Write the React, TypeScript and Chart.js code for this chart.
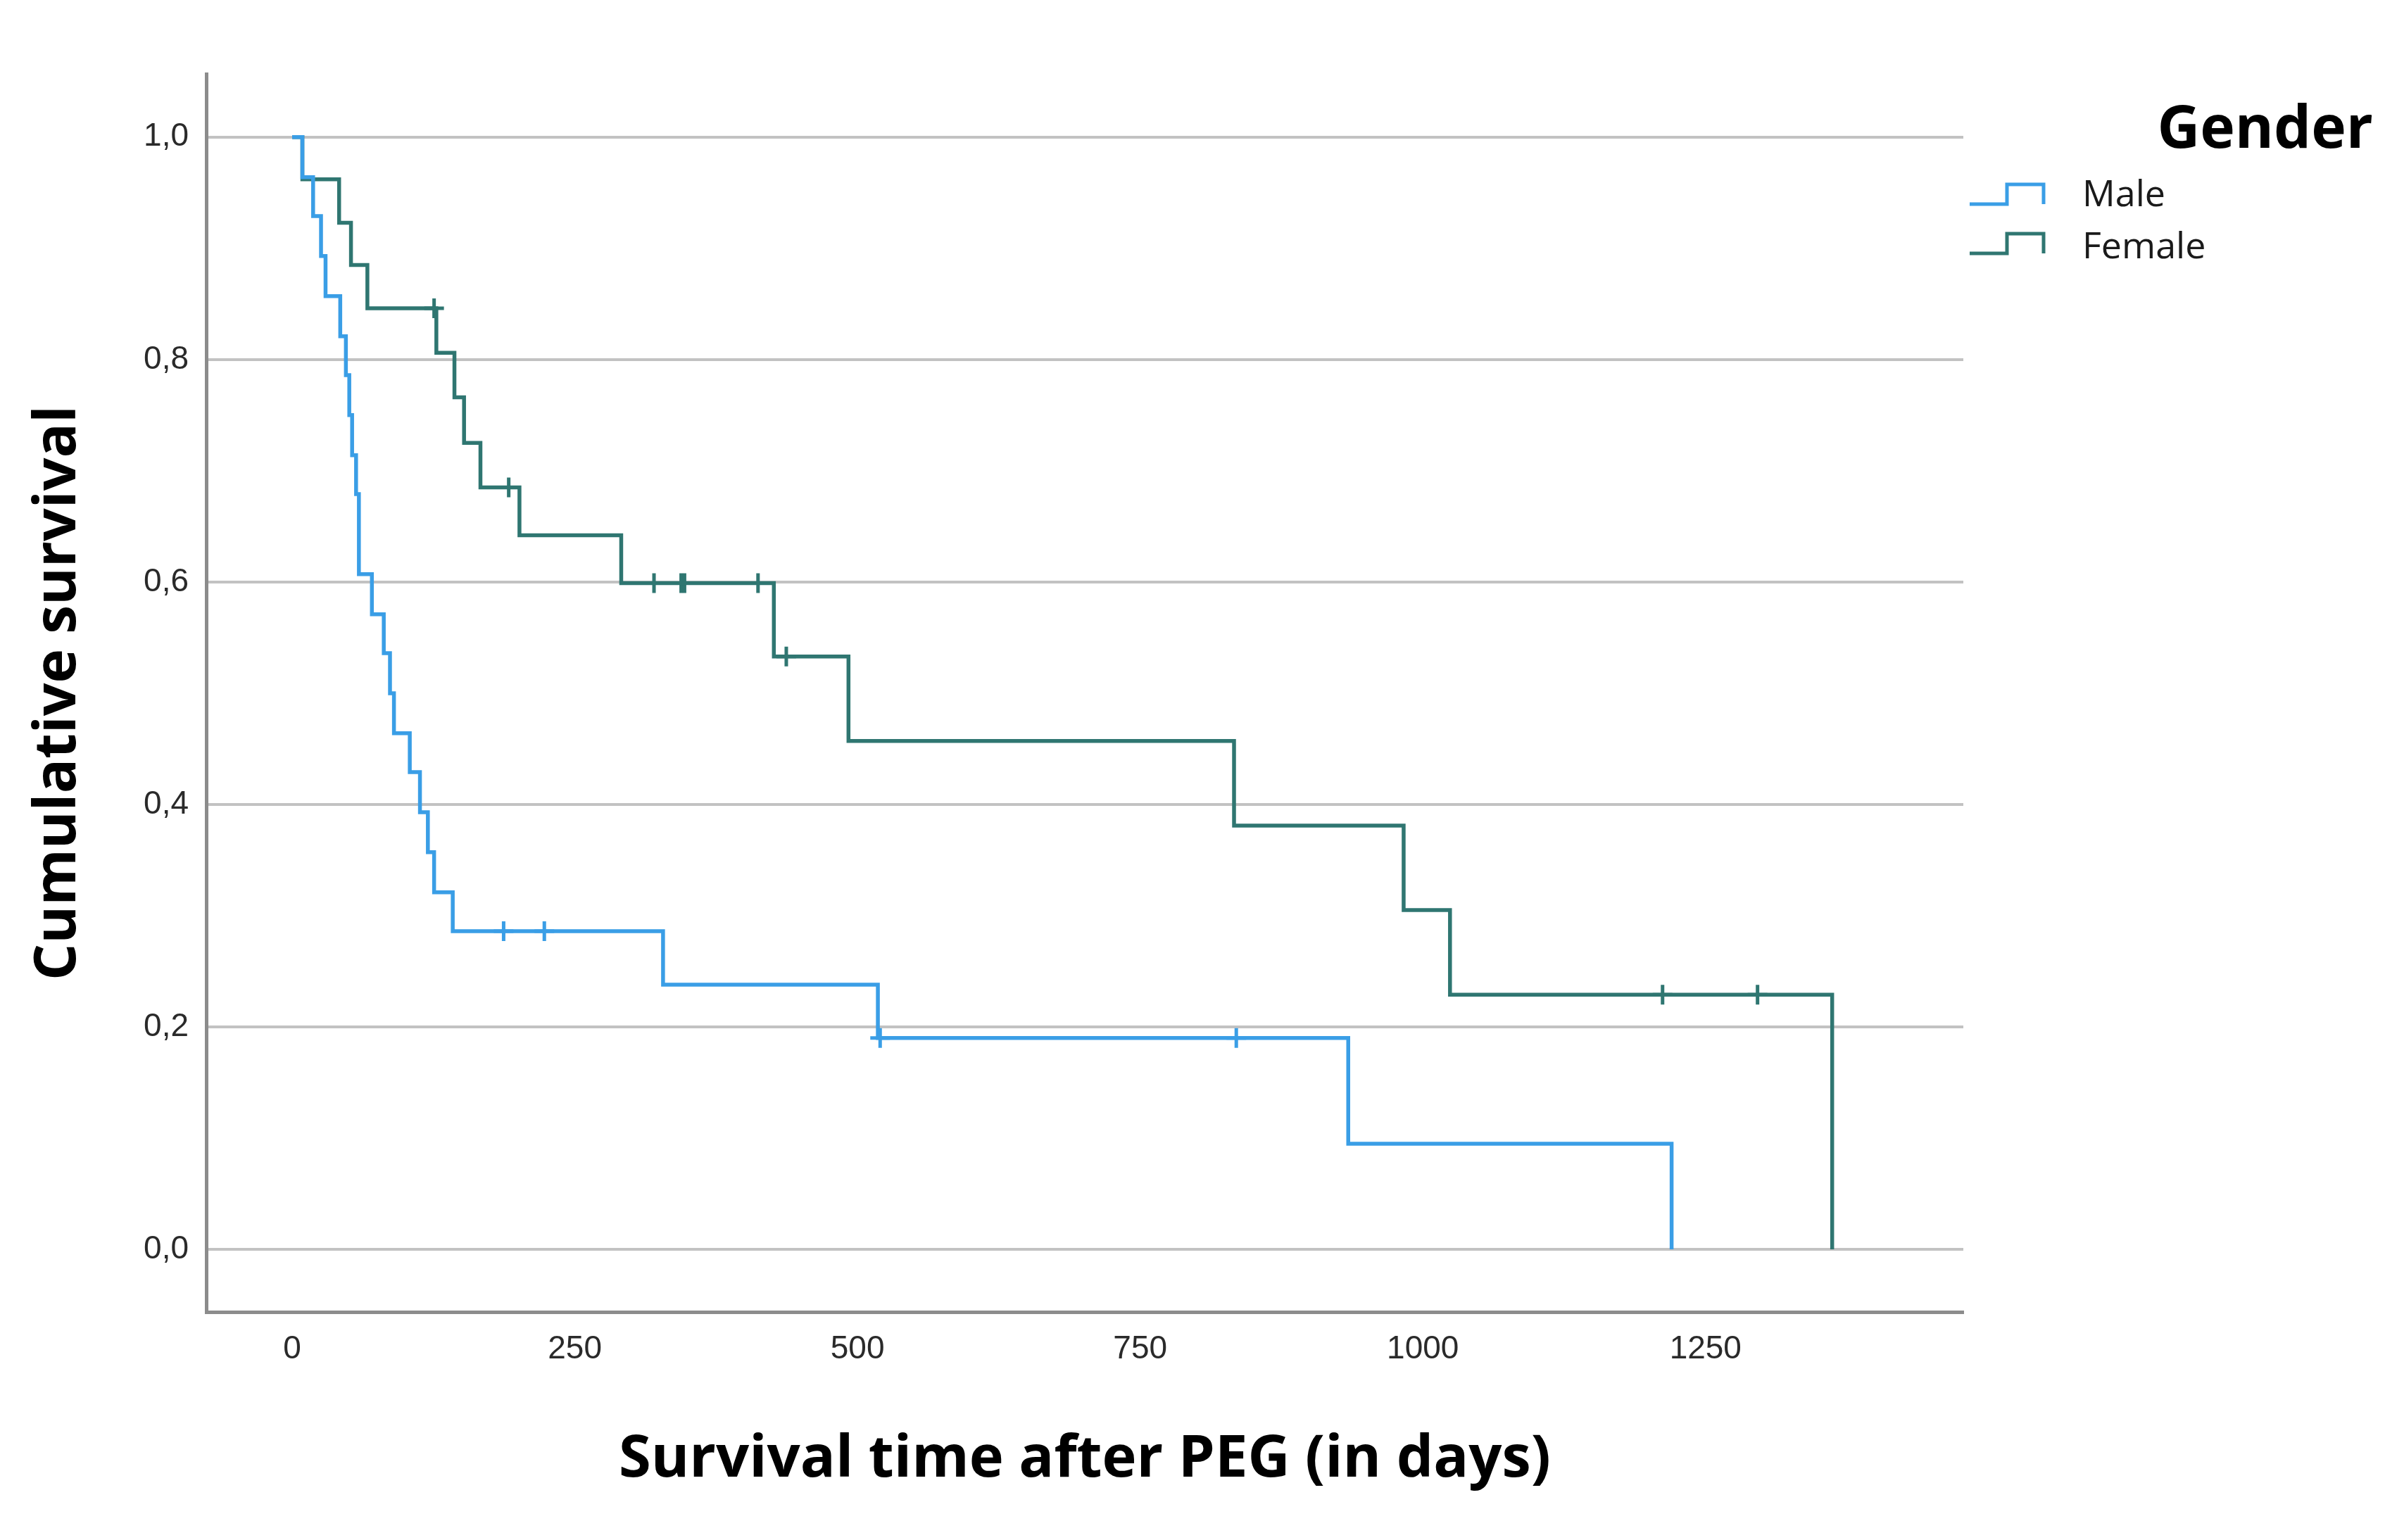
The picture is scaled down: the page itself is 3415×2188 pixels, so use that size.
import { useEffect, useRef } from "react"
import { Chart, registerables } from "chart.js"

Chart.register(...registerables)

// Kaplan-Meier steps (days, cumulative survival)
const maleTimes = [0, 9, 18.5, 25.5, 29.5, 42.5, 47.5, 50.5, 53, 56.5, 59, 70.5, 81, 86.5, 90, 104, 113, 120, 125.5, 142, 328, 518, 934, 1220]
const maleSurvival = [1, 0.964, 0.929, 0.893, 0.857, 0.821, 0.786, 0.75, 0.714, 0.679, 0.607, 0.571, 0.536, 0.5, 0.464, 0.429, 0.393, 0.357, 0.321, 0.286, 0.238, 0.19, 0.095, 0]
const maleCensorTimes = [187, 223, 520, 835]
const maleCensorSurvival = [0.286, 0.286, 0.19, 0.19]

const femaleTimes = [0, 9, 41.5, 52, 66.5, 127.5, 143.5, 152, 166.5, 201, 291, 426, 492, 833, 983, 1024, 1362]
const femaleSurvival = [1, 0.962, 0.923, 0.885, 0.846, 0.806, 0.766, 0.725, 0.685, 0.642, 0.599, 0.533, 0.457, 0.381, 0.305, 0.229, 0]
const femaleCensorTimes = [125.5, 191.5, 320, 344, 347, 412, 437, 1212, 1296]
const femaleCensorSurvival = [0.846, 0.685, 0.599, 0.599, 0.599, 0.599, 0.533, 0.229, 0.229]

const groupLabels = ["Male", "Female"]
const legendTitle = "Gender"
const xTicks = [0, 250, 500, 750, 1000, 1250]
const yTicks = [0, 0.2, 0.4, 0.6, 0.8, 1.0]

const MALE = "#3a9ee6"
const FEMALE = "#2f7671"
const groupColors = [MALE, FEMALE]

const toPoints = (xs: number[], ys: number[]) => xs.map((x, i) => ({ x, y: ys[i] }))

// step-shaped legend drawn to the right of the plot, like the SPSS output
const kmLegend = {
  id: "kmLegend",
  afterDraw(chart: Chart) {
    const ctx = chart.ctx
    const left = chart.chartArea.right + 9
    ctx.save()
    ctx.fillStyle = "#000"
    ctx.font = 'bold 84px "Open Sans"'
    ctx.textAlign = "right"
    ctx.textBaseline = "alphabetic"
    ctx.fillText(legendTitle, 3371, 210)

    groupLabels.forEach((label, i) => {
      const low = 290 + i * 70
      const high = low - 28
      ctx.strokeStyle = groupColors[i]
      ctx.lineWidth = 5
      ctx.lineJoin = "miter"
      ctx.beginPath()
      ctx.moveTo(left, low)
      ctx.lineTo(left + 53, low)
      ctx.lineTo(left + 53, high)
      ctx.lineTo(left + 105, high)
      ctx.lineTo(left + 105, low)
      ctx.stroke()

      ctx.fillStyle = "#1a1a1a"
      ctx.font = '52px "Open Sans"'
      ctx.textAlign = "left"
      ctx.fillText(label, left + 160, low + 3 + i * 4)
    })
    ctx.restore()
  },
}

export default function App() {
  const chartRef = useRef<HTMLCanvasElement>(null)
  const chartInstance = useRef<Chart | null>(null)

  useEffect(() => {
    if (!chartRef.current) return

    if (chartInstance.current) {
      chartInstance.current.destroy()
    }

    const ctx = chartRef.current.getContext("2d")
    if (!ctx) return

    Chart.defaults.font.family = '"Liberation Sans", Arial, sans-serif'

    const censorStyle = {
      showLine: false,
      pointStyle: "cross" as const,
      pointRadius: 14,
      pointHoverRadius: 14,
      pointBorderWidth: 5,
    }

    chartInstance.current = new Chart(ctx, {
      type: "line",
      data: {
        datasets: [
          {
            label: groupLabels[0],
            data: toPoints(maleTimes, maleSurvival),
            borderColor: MALE,
            borderWidth: 5.5,
            stepped: true,
            pointRadius: 0,
            fill: false,
          },
          {
            label: groupLabels[0] + " censored",
            data: toPoints(maleCensorTimes, maleCensorSurvival),
            borderColor: MALE,
            ...censorStyle,
          },
          {
            label: groupLabels[1],
            data: toPoints(femaleTimes, femaleSurvival),
            borderColor: FEMALE,
            borderWidth: 5.5,
            stepped: true,
            pointRadius: 0,
            fill: false,
          },
          {
            label: groupLabels[1] + " censored",
            data: toPoints(femaleCensorTimes, femaleCensorSurvival),
            borderColor: FEMALE,
            ...censorStyle,
          },
        ],
      },
      options: {
        responsive: false,
        animation: false,
        layout: {
          padding: { left: 0, top: 105, right: 626, bottom: 0 },
        },
        scales: {
          x: {
            type: "linear",
            min: -76,
            max: 1478,
            afterFit: (scale) => {
              scale.height = 324
            },
            afterBuildTicks: (scale) => {
              scale.ticks = xTicks.map((value) => ({ value }))
            },
            grid: { display: false, drawTicks: false },
            border: { display: true, color: "#8c8c8c", width: 5 },
            ticks: {
              padding: 26,
              color: "#2a2a2a",
              font: { size: 46 },
              callback: (v) => String(v),
            },
            title: {
              display: true,
              text: "Survival time after PEG (in days)",
              color: "#000",
              font: { family: '"Open Sans"', size: 83, weight: "bold" },
              padding: { top: 0, bottom: 64 },
            },
          },
          y: {
            type: "linear",
            min: -0.0563,
            max: 1.0568,
            afterFit: (scale) => {
              scale.width = 293
            },
            afterBuildTicks: (scale) => {
              scale.ticks = yTicks.map((value) => ({ value }))
            },
            grid: { color: "#c2c2c2", lineWidth: 4, drawTicks: false },
            border: { display: true, color: "#8c8c8c", width: 5 },
            ticks: {
              padding: 25,
              color: "#2a2a2a",
              font: { size: 46 },
              callback: (v) => Number(v).toFixed(1).replace(".", ","),
            },
            title: {
              display: true,
              text: "Cumulative survival",
              color: "#000",
              font: { family: '"Open Sans"', size: 82, weight: "bold" },
              padding: { top: 34, bottom: 0 },
            },
          },
        },
        plugins: {
          legend: { display: false },
          tooltip: { enabled: false },
        },
      },
      plugins: [kmLegend],
    })

    return () => {
      if (chartInstance.current) {
        chartInstance.current.destroy()
        chartInstance.current = null
      }
    }
  }, [])

  return (
    <div style={{ position: "fixed", left: 0, top: 0, width: 3415, height: 2188, background: "#fff", overflow: "hidden" }}>
      <canvas ref={chartRef} width={3415} height={2188} style={{ display: "block" }} />
    </div>
  )
}
